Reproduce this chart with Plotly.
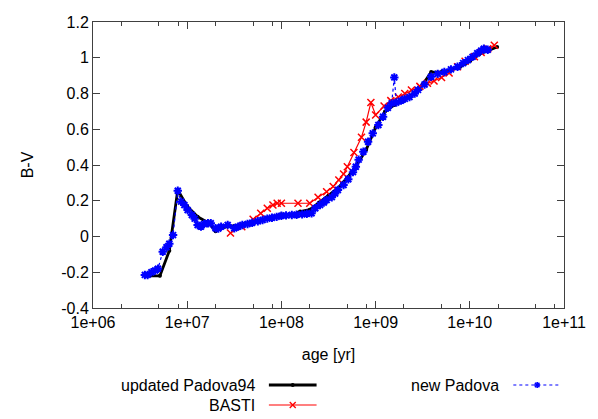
import plotly.graph_objects as go

# ---- data (age in yr, B-V colour) ----
padova94_age = [3.8e6, 5.13e6, 6.46e6, 7.94e6, 1.0e7, 1.29e7, 1.70e7, 2.0e7, 2.51e7, 3.16e7,
                3.98e7, 5.01e7, 6.31e7, 7.94e7, 1.0e8, 1.26e8, 1.58e8, 2.0e8, 2.51e8, 3.16e8,
                3.98e8, 5.01e8, 6.31e8, 7.94e8, 1.0e9, 1.26e9, 1.58e9, 2.0e9, 2.51e9, 3.16e9,
                3.89e9, 5.01e9, 6.31e9, 7.94e9, 1.0e10, 1.26e10, 1.58e10, 1.95e10]
padova94_bv = [-0.22, -0.22, -0.08, 0.26, 0.17, 0.11, 0.075, 0.03, 0.055, 0.06,
               0.07, 0.085, 0.095, 0.105, 0.125, 0.12, 0.14, 0.15, 0.19, 0.23,
               0.27, 0.33, 0.40, 0.485, 0.61, 0.70, 0.735, 0.76, 0.80, 0.85,
               0.92, 0.92, 0.93, 0.95, 0.98, 1.02, 1.04, 1.06]

basti_age = [2.88e7, 3.80e7, 5.01e7, 6.03e7, 7.08e7, 8.13e7, 9.02e7, 1.0e8, 1.50e8, 2.0e8,
             2.45e8, 3.02e8, 3.55e8, 4.07e8, 4.57e8, 5.01e8, 5.89e8, 7.08e8, 7.94e8, 8.91e8,
             1.0e9, 1.23e9, 1.45e9, 1.74e9, 2.04e9, 2.40e9, 2.95e9, 3.55e9, 4.17e9, 5.01e9,
             6.03e9, 7.41e9, 8.91e9, 1.12e10, 1.32e10, 1.55e10, 1.82e10]
basti_bv = [0.02, 0.055, 0.096, 0.13, 0.158, 0.176, 0.186, 0.186, 0.186, 0.186,
            0.22, 0.25, 0.28, 0.316, 0.35, 0.39, 0.47, 0.555, 0.64, 0.75,
            0.68, 0.73, 0.76, 0.78, 0.80, 0.82, 0.84, 0.857, 0.87, 0.89,
            0.915, 0.95, 0.98, 1.006, 1.03, 1.05, 1.07]

newpadova_age = [3.55e6, 3.8e6, 4.17e6, 4.57e6, 4.90e6, 5.50e6, 6.03e6, 6.46e6, 7.08e6, 7.94e6,
                 8.61e6, 9.33e6, 1.01e7, 1.12e7, 1.20e7, 1.29e7, 1.40e7, 1.51e7, 1.66e7, 1.78e7,
                 2.0e7, 2.14e7, 2.29e7, 2.69e7, 3.16e7, 3.47e7, 3.85e7, 4.37e7, 4.90e7, 5.62e7,
                 6.31e7, 7.08e7, 7.94e7, 8.91e7, 1.0e8, 1.12e8, 1.29e8, 1.45e8, 1.66e8, 1.86e8,
                 2.09e8, 2.29e8, 2.57e8, 2.82e8, 3.02e8, 3.43e8, 3.72e8, 3.98e8, 4.57e8, 5.13e8,
                 5.75e8, 6.17e8, 6.61e8, 7.41e8, 8.32e8, 9.33e8, 1.07e9, 1.20e9, 1.35e9, 1.48e9,
                 1.58e9, 1.66e9, 1.86e9, 2.04e9, 2.29e9, 2.60e9, 2.82e9, 3.31e9, 3.89e9, 4.57e9,
                 5.37e9, 6.31e9, 7.41e9, 8.51e9, 9.55e9, 1.07e10, 1.20e10, 1.32e10, 1.41e10, 1.55e10]
newpadova_bv = [-0.215, -0.215, -0.20, -0.19, -0.18, -0.085, -0.06, -0.04, 0.008, 0.256,
                0.195, 0.176, 0.148, 0.12, 0.10, 0.064, 0.055, 0.07, 0.074, 0.074,
                0.046, 0.045, 0.055, 0.064, 0.046, 0.055, 0.064, 0.07, 0.077, 0.085,
                0.092, 0.10, 0.105, 0.11, 0.116, 0.118, 0.12, 0.122, 0.124, 0.127,
                0.13, 0.158, 0.176, 0.19, 0.204, 0.22, 0.24, 0.26, 0.288, 0.32,
                0.36, 0.39, 0.43, 0.474, 0.53, 0.577, 0.624, 0.67, 0.72, 0.745,
                0.89, 0.75, 0.76, 0.77, 0.78, 0.80, 0.82, 0.85, 0.894, 0.91,
                0.92, 0.935, 0.95, 0.97, 0.987, 1.005, 1.025, 1.04, 1.05, 1.045]

x_tickvals = [1e6, 1e7, 1e8, 1e9, 1e10, 1e11]
x_ticktext = ["1e+06", "1e+07", "1e+08", "1e+09", "1e+10", "1e+11"]
x_minor = [m * 10 ** e for e in range(6, 11) for m in (2, 5, 8)]
y_tickvals = [-0.4, -0.2, 0, 0.2, 0.4, 0.6, 0.8, 1, 1.2]
y_ticktext = ["-0.4", "-0.2", "0", "0.2", "0.4", "0.6", "0.8", "1", "1.2"]

FONT = "Liberation Sans"
FS = 16
AX = "#404040"

fig = go.Figure()
fig.add_trace(go.Scatter(x=padova94_age, y=padova94_bv, mode="lines+markers",
                         line=dict(color="black", width=2.8),
                         marker=dict(symbol="circle", size=4, color="black"),
                         name="updated Padova94", showlegend=False))
fig.add_trace(go.Scatter(x=basti_age, y=basti_bv, mode="lines+markers",
                         line=dict(color="#ff0000", width=1.2),
                         marker=dict(symbol="x-thin", size=7, color="#ff0000",
                                     line=dict(color="#ff0000", width=1.5)),
                         name="BASTI", showlegend=False))
fig.add_trace(go.Scatter(x=newpadova_age, y=newpadova_bv, mode="lines+markers",
                         line=dict(color="#0000ff", width=1.2, dash="dot"),
                         marker=dict(symbol="asterisk", size=7, color="#0000ff",
                                     line=dict(color="#0000ff", width=2)),
                         name="new Padova", showlegend=False))

# plot area in pixels: x 93..567, y 22..308
L, R, T, B = 93, 567, 22, 308
W, H = R - L, B - T


def px(x):
    return (x - L) / W


def py(y):
    return (B - y) / H


shapes = []
annots = []
# legend rows (gnuplot style: text, then sample)
legend_rows = [
    ("updated Padova94", 258, 385, 270, 318, "black", 2.8, "solid", "dot"),
    ("BASTI", 258, 405, 270, 318, "#ff0000", 1.2, "solid", "x"),
    ("new Padova", 504, 385, 516, 564, "#0000ff", 1.2, "dot", "star"),
]
for text, tx, ty, sx0, sx1, col, w, dash, mk in legend_rows:
    annots.append(dict(x=px(tx), y=py(ty), xref="paper", yref="paper", text=text,
                       showarrow=False, xanchor="right", yanchor="middle",
                       font=dict(family=FONT, size=FS, color="black")))
    shapes.append(dict(type="line", xref="paper", yref="paper", x0=px(sx0), x1=px(sx1),
                       y0=py(ty), y1=py(ty), line=dict(color=col, width=w, dash=dash)))
    cx = (sx0 + sx1) / 2
    if mk == "dot":
        shapes.append(dict(type="circle", xref="paper", yref="paper",
                           x0=px(cx - 2), x1=px(cx + 2), y0=py(ty - 2), y1=py(ty + 2),
                           fillcolor=col, line=dict(color=col, width=0)))
    elif mk == "x":
        for d in (1, -1):
            shapes.append(dict(type="line", xref="paper", yref="paper",
                               x0=px(cx - 3), x1=px(cx + 3), y0=py(ty - 3 * d), y1=py(ty + 3 * d),
                               line=dict(color=col, width=1.3)))
    else:
        for dx, dy in ((3, 0), (0, 3), (2.3, 2.3), (2.3, -2.3)):
            shapes.append(dict(type="line", xref="paper", yref="paper",
                               x0=px(cx - dx), x1=px(cx + dx), y0=py(ty - dy), y1=py(ty + dy),
                               line=dict(color=col, width=1.6)))

fig.update_layout(
    width=598, height=419,
    margin=dict(l=L, r=598 - R, t=T, b=419 - B),
    paper_bgcolor="white", plot_bgcolor="white",
    font=dict(family=FONT, size=FS, color="black"),
    shapes=shapes, annotations=annots,
    xaxis=dict(type="log", range=[6, 11], tickvals=x_tickvals, ticktext=x_ticktext,
               ticks="inside", ticklen=7, tickcolor=AX, tickwidth=1,
               showline=True, linecolor=AX, linewidth=1, mirror="allticks",
               showgrid=False, zeroline=False,
               minor=dict(tickvals=x_minor, ticks="inside", ticklen=4, tickcolor=AX, showgrid=False),
               title=dict(text="age [yr]", font=dict(family=FONT, size=FS), standoff=18),
               tickfont=dict(family=FONT, size=FS)),
    yaxis=dict(range=[-0.4, 1.2], tickvals=y_tickvals, ticktext=y_ticktext,
               ticks="inside", ticklen=7, tickcolor=AX, tickwidth=1,
               showline=True, linecolor=AX, linewidth=1, mirror="allticks",
               showgrid=False, zeroline=False,
               title=dict(text="B-V", font=dict(family=FONT, size=FS), standoff=23),
               tickfont=dict(family=FONT, size=FS)),
)

fig.write_html("out.html", config={"displayModeBar": False},
               post_script="document.body.style.margin='0';document.body.style.overflow='hidden';")
